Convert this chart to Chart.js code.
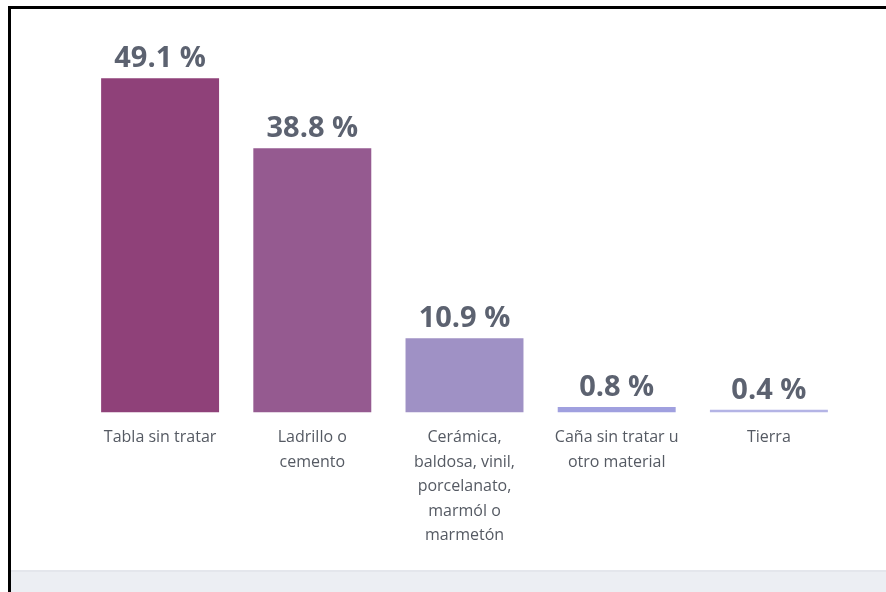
<!DOCTYPE html>
<html>
<head>
<meta charset="utf-8">
<script src="https://cdn.jsdelivr.net/npm/chart.js@4/dist/chart.umd.min.js"></script>
<style>
  html, body { margin: 0; padding: 0; background: #ffffff; width: 886px; height: 592px; overflow: hidden; }
  #frame { position: absolute; left: 8px; top: 6px; width: 878px; height: 586px; border-top: 3px solid #000; border-left: 3px solid #000; box-sizing: border-box; }
  #band { position: absolute; left: 11px; top: 570px; width: 875px; height: 22px; background: #eceef3; border-top: 2px solid #e4e6ec; box-sizing: border-box; }
  #wrap { position: absolute; left: 0; top: 0; width: 886px; height: 592px; }
</style>
</head>
<body>
<div id="frame"></div>
<div id="band"></div>
<div id="wrap"><canvas id="c" width="886" height="592"></canvas></div>
<script>
const categories = [
  ["Tabla sin tratar"],
  ["Ladrillo o", "cemento"],
  ["Cerámica,", "baldosa, vinil,", "porcelanato,", "marmól o", "marmetón"],
  ["Caña sin tratar u", "otro material"],
  ["Tierra"]
];
const values = [49.1, 38.8, 10.9, 0.8, 0.4];
const valueLabels = ["49.1 %", "38.8 %", "10.9 %", "0.8 %", "0.4 %"];
const barColors = ["#8f4179", "#955a90", "#9f91c5", "#a0a0df", "#b4b4e5"];

const valueLabelPlugin = {
  id: 'valueLabels',
  afterDatasetsDraw(chart) {
    const ctx = chart.ctx;
    const meta = chart.getDatasetMeta(0);
    ctx.save();
    ctx.font = "bold 29px 'Open Sans', sans-serif";
    ctx.fillStyle = "#5c6270";
    ctx.textAlign = "center";
    ctx.textBaseline = "alphabetic";
    meta.data.forEach((bar, i) => {
      ctx.fillText(valueLabels[i], bar.x, bar.y - 11);
    });
    ctx.restore();
  }
};

new Chart(document.getElementById('c'), {
  type: 'bar',
  data: {
    labels: categories,
    datasets: [{
      data: values,
      backgroundColor: barColors,
      borderWidth: 0,
      barPercentage: 0.775,
      categoryPercentage: 1.0
    }]
  },
  options: {
    responsive: false,
    animation: false,
    devicePixelRatio: 1,
    layout: { padding: { left: 84, right: 41, top: 38, bottom: 0 } },
    plugins: { legend: { display: false }, tooltip: { enabled: false } },
    scales: {
      y: { display: false, min: 0, max: 55 },
      x: {
        grid: { display: false, drawTicks: false },
        border: { display: false },
        ticks: {
          color: "#555a63",
          font: { family: "'Open Sans', sans-serif", size: 16, lineHeight: 1.53 },
          padding: 13,
          maxRotation: 0,
          autoSkip: false
        },
        afterFit(scale) { scale.height = 592 - 412.5; }
      }
    }
  },
  plugins: [valueLabelPlugin]
});
</script>
</body>
</html>
